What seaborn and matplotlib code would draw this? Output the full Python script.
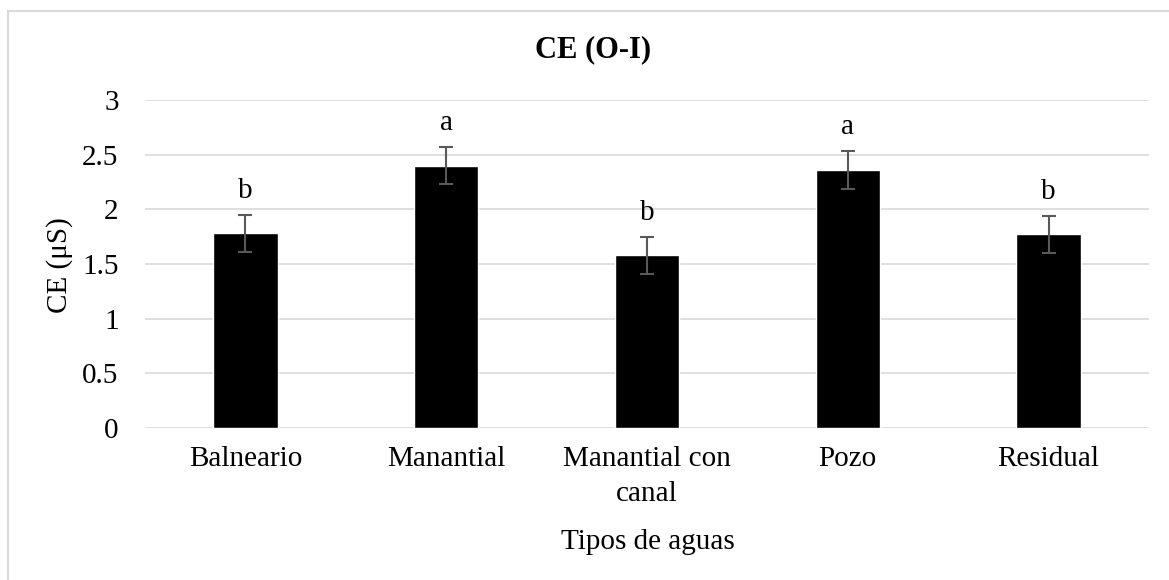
import matplotlib
matplotlib.use("Agg")
import matplotlib.pyplot as plt
import seaborn as sns
import pandas as pd
from matplotlib.patches import Rectangle

categories = ["Balneario", "Manantial", "Manantial con\ncanal", "Pozo", "Residual"]
values = [1.78, 2.40, 1.58, 2.36, 1.77]
errors = [0.17, 0.17, 0.17, 0.17, 0.17]
letters = ["b", "a", "b", "a", "b"]
yticks = [0, 0.5, 1, 1.5, 2, 2.5, 3]
ytick_labels = ["0", "0.5", "1", "1.5", "2", "2.5", "3"]

sns.set_theme(style="white")
plt.rcParams["font.family"] = ["Liberation Serif", "DejaVu Serif"]
plt.rcParams["text.color"] = "black"
plt.rcParams["xtick.color"] = "black"
plt.rcParams["ytick.color"] = "black"
plt.rcParams["axes.labelcolor"] = "black"

W, H = 1169, 580
fig = plt.figure(figsize=(W / 100, H / 100), dpi=100)
ax = fig.add_axes([145 / W, (H - 428) / H, (1149 - 145) / W, (428 - 100) / H])

df = pd.DataFrame({"cat": categories, "val": values})
sns.barplot(data=df, x="cat", y="val", color="black", width=0.32,
            errorbar=None, ax=ax, saturation=1)
ax.errorbar(range(len(values)), values, yerr=errors, fmt="none",
            ecolor="#595959", elinewidth=1.5, capsize=5, capthick=1.5, zorder=5)

for i, (v, e, l) in enumerate(zip(values, errors, letters)):
    ax.text(i, v + e + 0.22, l, ha="center", va="center", fontsize=21, color="black")

ax.set_ylim(0, 3)
ax.set_xlim(-0.5, len(categories) - 0.5)
ax.set_yticks(yticks)
ax.set_yticklabels(ytick_labels)
ax.yaxis.grid(True, color="#d9d9d9", linewidth=1.2)
ax.set_axisbelow(True)
for s in ax.spines.values():
    s.set_visible(False)
ax.tick_params(axis="y", length=0, pad=19, labelsize=21, labelcolor="black")
ax.tick_params(axis="x", length=0, pad=13, labelsize=21, labelcolor="black")
for t in ax.get_xticklabels():
    t.set_linespacing(1.45)
    t.set_verticalalignment("top")
ax.set_xlabel("")
ax.set_ylabel("")

fig.text(60 / W, 1 - 265 / H, "CE (μS)", rotation=90, ha="center", va="center", fontsize=21, color="black")
fig.text(648 / W, 1 - 542 / H, "Tipos de aguas", ha="center", va="center", fontsize=21, color="black")
fig.text(593 / W, 1 - 50 / H, "CE (O-I)", ha="center", va="center", fontsize=22, fontweight="bold", color="black")

fig.patches.append(Rectangle((8 / W, -0.1), 1.2, (H - 11) / H + 0.1, transform=fig.transFigure,
                             fill=False, edgecolor="#d9d9d9", linewidth=1.5))

fig.savefig("out.png", dpi=100)
